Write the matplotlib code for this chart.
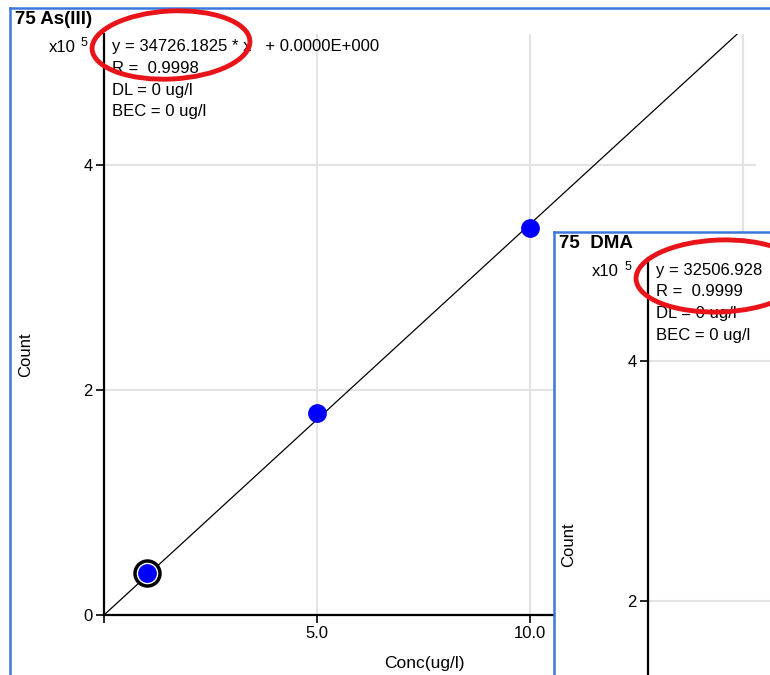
import numpy as np
import matplotlib
matplotlib.use('Agg')
import matplotlib.pyplot as plt
from matplotlib.patches import Ellipse
from matplotlib.lines import Line2D
from matplotlib.transforms import IdentityTransform

plt.rcParams['font.family'] = ['Liberation Sans', 'DejaVu Sans']

# data
conc = [1.0, 5.0, 10.0]
counts = [0.372e5, 1.79e5, 3.44e5]
slope_as = 34726.1825
slope_dma = 32506.928
eq_as = ['y = 34726.1825 * x   + 0.0000E+000', 'R =  0.9998', 'DL = 0 ug/l', 'BEC = 0 ug/l']
eq_dma = ['y = 32506.928', 'R =  0.9999', 'DL = 0 ug/l', 'BEC = 0 ug/l']
xticks = [0, 5, 10]
xticklabels = ['', '5.0', '10.0']
yticks = [0, 2e5, 4e5]
yticklabels = ['0', '2', '4']

W, H = 770, 675
fig = plt.figure(figsize=(W / 100, H / 100), dpi=100)
fig.patch.set_facecolor('white')
pix = IdentityTransform()
blue_frame = '#3c78d8'
grid_c = '#e3e3e3'
fs = 12


def box(l, t, r, b):
    return [l / W, 1 - b / H, (r - l) / W, (b - t) / H]


def txt(x, y, s, **kw):
    fig.text(x, H - y, s, transform=pix, **kw)


def style_axes(ax, ymax):
    ax.set_ylim(0, ymax)
    ax.set_xlim(0, 15.3)
    for s in ['top', 'right']:
        ax.spines[s].set_visible(False)
    for s in ['left', 'bottom']:
        ax.spines[s].set_linewidth(1.6)
    ax.set_xticks(xticks)
    ax.set_xticklabels(xticklabels)
    ax.set_yticks(yticks)
    ax.set_yticklabels(yticklabels)
    ax.tick_params(direction='out', length=6, width=1.2, labelsize=fs, pad=2)
    ax.set_xticks([15], minor=True)
    ax.tick_params(which='minor', length=0)
    ax.grid(True, which='both', color=grid_c, lw=1.5)
    ax.set_axisbelow(True)


# main panel: 75 As(III)
ax = fig.add_axes(box(104, 34, 756, 615))
ax.patch.set_alpha(0)
style_axes(ax, 5.16e5)
xe = 5.16e5 / slope_as
ax.plot([0, xe], [0, slope_as * xe], color='k', lw=0.9)
ax.plot(conc[0], counts[0], 'o', ms=18, mfc='white', mec='k', mew=2.5, zorder=3)
ax.plot(conc, counts, 'o', ms=12.5, color='#0000ff', zorder=4)
ax.set_xlabel('Conc(ug/l)', fontsize=12.5)
ax.xaxis.set_label_coords((424 - 104) / 652, -0.07)
ax.set_ylabel('Count', fontsize=fs)
ax.yaxis.set_label_coords((33 - 104) / 652, (615 - 355) / 581)

txt(15, 20, '75 As(III)', fontsize=13.5, fontweight='bold', va='center')
txt(49, 48, 'x10', fontsize=fs, va='center')
txt(81, 43, '5', fontsize=9, va='center')
for i, s in enumerate(eq_as):
    txt(112, 47 + 21.5 * i, s, fontsize=fs, va='center')

fig.add_artist(Line2D([10, 10], [0, H - 8], transform=pix, color=blue_frame, lw=1.8))
fig.add_artist(Line2D([10, W], [H - 8, H - 8], transform=pix, color=blue_frame, lw=1.8))

# overlapping panel: 75 DMA
cover = fig.add_axes(box(554, 232, W + 5, H + 5))
cover.set_facecolor('white')
cover.set_xticks([])
cover.set_yticks([])
for s in cover.spines.values():
    s.set_visible(False)
cover.set_zorder(2)

ax2 = fig.add_axes(box(648, 258, 648 + 652, 841))
ax2.patch.set_alpha(0)
ax2.set_zorder(3)
style_axes(ax2, 4.86e5)
# only the upper part of this panel is on screen
ax2.set_yticks(yticks[1:])
ax2.set_yticklabels(yticklabels[1:])
ax2.set_xticklabels([''] * len(xticks))
ax2.plot([0, 4.86e5 / slope_dma], [0, 4.86e5], color='k', lw=0.9)
ax2.set_ylabel('Count', fontsize=fs)
ax2.yaxis.set_label_coords((576 - 648) / 652, (841 - 545) / 583)

for i, s in enumerate(eq_dma):
    ax2.text(656, H - (270 + 21.8 * i), s, transform=pix, fontsize=fs, va='center')
ax2.text(559, H - 243, '75  DMA', transform=pix, fontsize=13.5, fontweight='bold', va='center')
ax2.text(592, H - 272, 'x10', transform=pix, fontsize=fs, va='center')
ax2.text(625, H - 267, '5', transform=pix, fontsize=9, va='center')

fr1 = Line2D([554, 554], [0, H - 232], transform=pix, color=blue_frame, lw=1.8, zorder=5)
fr2 = Line2D([554, W], [H - 232, H - 232], transform=pix, color=blue_frame, lw=1.8, zorder=5)
fig.add_artist(fr1)
fig.add_artist(fr2)

# red highlight ellipses
e1 = Ellipse((171, H - 45), 158, 68, angle=3, transform=pix, fill=False, ec='#e8141a', lw=3.5, zorder=10)
e2 = Ellipse((720, H - 276), 168, 72, angle=2, transform=pix, fill=False, ec='#e8141a', lw=3.5, zorder=10)
fig.add_artist(e1)
fig.add_artist(e2)

fig.savefig('out.png', dpi=100)
